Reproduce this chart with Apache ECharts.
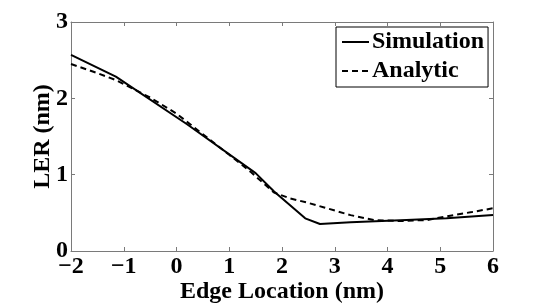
<!DOCTYPE html>
<html>
<head>
<meta charset="utf-8">
<script src="https://cdn.jsdelivr.net/npm/echarts@6/dist/echarts.min.js"></script>
<style>html,body{margin:0;padding:0;background:#fff;}#c{width:545px;height:303px;}</style>
</head>
<body>
<div id="c"></div>
<script>
const xTicks = [-2, -1, 0, 1, 2, 3, 4, 5, 6];
const yTicks = [0, 1, 2, 3];
const simX = [-2, -1.15, 0.2, 1.5, 1.85, 2.44, 2.72, 3.3, 4.36, 5.12, 6];
const simY = [2.57, 2.285, 1.66, 1.02, 0.78, 0.428, 0.354, 0.376, 0.406, 0.428, 0.472];
const anaX = [-2, -1.5, -1.15, -0.5, 0, 0.5, 1, 1.4, 1.85, 2.15, 2.5, 2.8, 3.3, 3.75, 4.25, 4.75, 5.25, 5.6, 6];
const anaY = [2.45, 2.33, 2.24, 2.01, 1.80, 1.53, 1.26, 1.04, 0.765, 0.69, 0.63, 0.57, 0.47, 0.405, 0.393, 0.406, 0.47, 0.51, 0.56];
const seriesNames = ['Simulation', 'Analytic'];

const font = 'Liberation Serif';
const axisColor = '#7a7a7a';
const pair = (xs, ys) => xs.map((x, i) => [x, ys[i]]);

const chart = echarts.init(document.getElementById('c'), null, {renderer: 'canvas'});
const baseX = {
  type: 'value', min: xTicks[0], max: xTicks[xTicks.length - 1], interval: 1,
  axisLine: {show: true, onZero: false, lineStyle: {color: axisColor, width: 1}},
  axisTick: {show: true, inside: true, length: 4, lineStyle: {color: axisColor}},
  splitLine: {show: false}
};
const baseY = {
  type: 'value', min: yTicks[0], max: yTicks[yTicks.length - 1], interval: 1,
  axisLine: {show: true, onZero: false, lineStyle: {color: axisColor, width: 1}},
  axisTick: {show: true, inside: true, length: 4, lineStyle: {color: axisColor}},
  splitLine: {show: false}
};
chart.setOption({
  animation: false,
  backgroundColor: '#fff',
  grid: {left: 71, right: 52, top: 22, bottom: 52, containLabel: false, outerBoundsMode: 'none'},
  xAxis: [
    Object.assign({}, baseX, {
      position: 'bottom',
      name: 'Edge Location (nm)', nameLocation: 'middle', nameGap: 29, nameMoveOverlap: false,
      nameTextStyle: {fontFamily: font, fontWeight: 'bold', fontSize: 24, color: '#000'},
      axisLabel: {show: true, margin: 4, fontFamily: font, fontWeight: 'bold', fontSize: 24, color: '#000',
        formatter: v => (v < 0 ? '\u2212' + Math.abs(v) : String(v))}
    }),
    Object.assign({}, baseX, {position: 'top', axisLabel: {show: false}})
  ],
  yAxis: [
    Object.assign({}, baseY, {
      position: 'left',
      name: 'LER (nm)', nameLocation: 'middle', nameGap: 16, nameRotate: 90, nameMoveOverlap: false,
      nameTextStyle: {fontFamily: font, fontWeight: 'bold', fontSize: 24, color: '#000'},
      axisLabel: {show: true, margin: 3, fontFamily: font, fontWeight: 'bold', fontSize: 24, color: '#000'}
    }),
    Object.assign({}, baseY, {position: 'right', axisLabel: {show: false}})
  ],
  legend: {
    orient: 'vertical', left: 336, top: 27,
    padding: [3, 4, 4, 5], itemGap: 5,
    itemWidth: 27, itemHeight: 14,
    borderColor: '#000', borderWidth: 1, backgroundColor: '#fff',
    itemStyle: {opacity: 0},
    textStyle: {fontFamily: font, fontWeight: 'bold', fontSize: 24, color: '#000', padding: [0, 0, 0, -2]},
    data: seriesNames
  },
  series: [
    {name: seriesNames[0], type: 'line', data: pair(simX, simY), showSymbol: false, symbol: 'none',
      lineStyle: {color: '#000', width: 2, type: 'solid'}, itemStyle: {color: '#000'}},
    {name: seriesNames[1], type: 'line', data: pair(anaX, anaY), showSymbol: false, symbol: 'none',
      lineStyle: {color: '#000', width: 2, type: [6, 4]}, itemStyle: {color: '#000'}}
  ]
});
</script>
</body>
</html>
